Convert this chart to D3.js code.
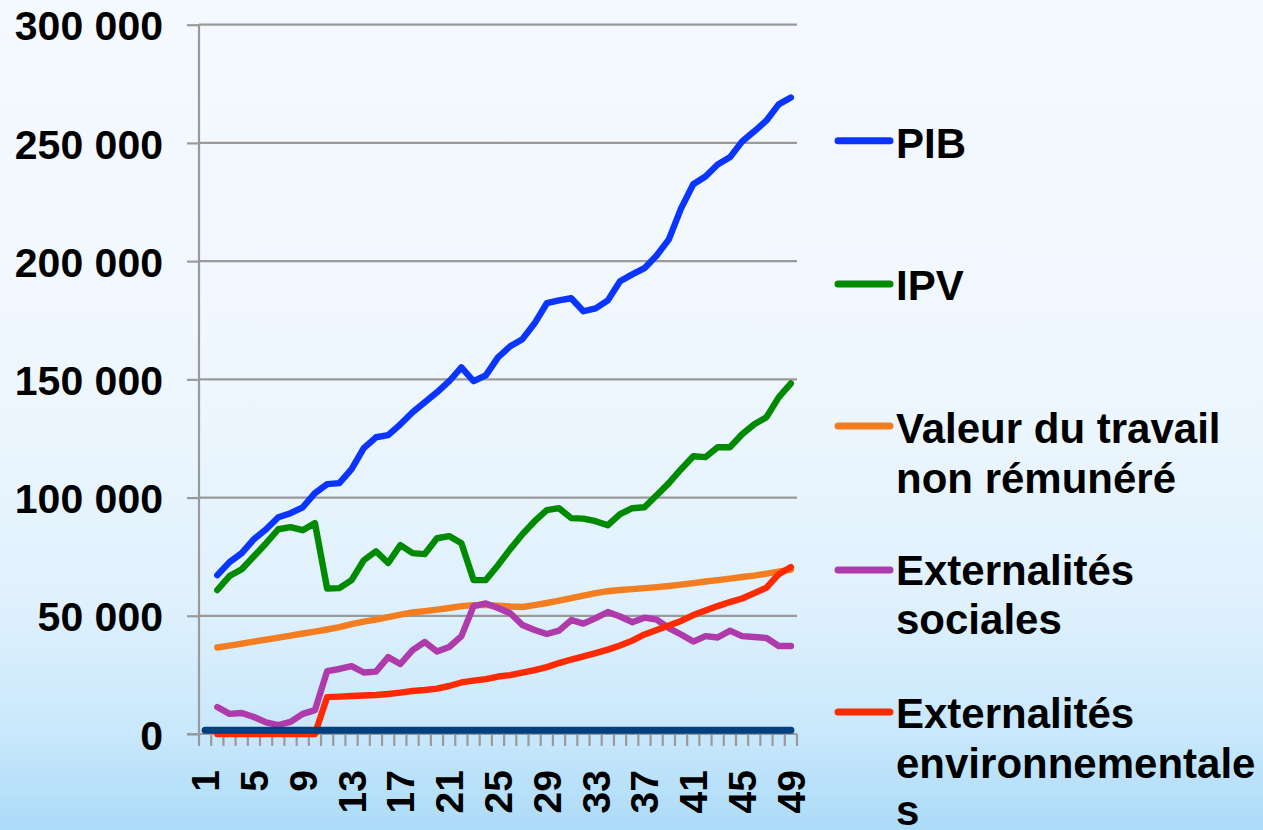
<!DOCTYPE html>
<html>
<head>
<meta charset="utf-8">
<script src="https://cdn.jsdelivr.net/npm/d3@7"></script>
<style>
  html, body { margin: 0; padding: 0; overflow: hidden; }
  svg { display: block; }
</style>
</head>
<body>
<svg id="chart" width="1263" height="830"></svg>
<script>
// Years 1..49
const categories = d3.range(1, 50);

// Series values (null = no value)
const pib = [null, 67200, 72700, 76500, 82400, 86600, 91700, 93400, 95900, 101900,
  105700, 106100, 112000, 120900, 125500, 126400, 131000, 136100, 140300, 144500,
  149200, 155100, 149200, 151700, 159300, 164000, 167000, 173700, 182200, 183400,
  184300, 178800, 180000, 183400, 191500, 194400, 197000, 202400, 209200, 222300,
  232500, 235800, 240900, 243900, 250600, 254900, 259500, 266300, 269200];

const ipv = [null, 60900, 66800, 69700, 75200, 80700, 86600, 87500, 86200, 89200,
  61500, 61700, 65100, 73500, 77300, 72300, 79900, 76500, 76100, 82800,
  83700, 80700, 65100, 65100, 71400, 78200, 84500, 90000, 94700, 95500,
  91300, 91100, 90000, 88300, 93000, 95500, 95900, 101000, 106100, 112000,
  117500, 117100, 121300, 121300, 126800, 131000, 134000, 142400, 148300];

const travail = [null, 36600, 37400, 38200, 39100, 39900, 40800, 41600, 42500, 43300,
  44200, 45200, 46500, 47500, 48400, 49400, 50500, 51400, 52000, 52600,
  53300, 54100, 54500, 54500, 54300, 53900, 53700, 54500, 55400, 56400,
  57500, 58500, 59600, 60400, 60900, 61300, 61700, 62100, 62600, 63200,
  63800, 64500, 65100, 65700, 66400, 67000, 67800, 68700, 69500];

const sociales = [null, 11400, 8500, 8900, 7200, 4900, 3800, 5100, 8500, 10100,
  26600, 27500, 28700, 26000, 26400, 32500, 29600, 35500, 38900, 34900,
  36800, 41400, 54100, 55200, 53300, 51100, 46100, 44000, 42300, 43700,
  48200, 46700, 49000, 51600, 49700, 47300, 49200, 48400, 44800, 42100,
  39100, 41400, 40800, 43700, 41400, 41000, 40600, 37200, 37200];

const environnementales = [null, 0, 0, 0, 0, 0, 0, 0, 0, 0,
  15600, 15800, 16100, 16300, 16500, 16900, 17500, 18200, 18600, 19200,
  20300, 21800, 22600, 23200, 24300, 24900, 26000, 27000, 28300, 30000,
  31500, 32800, 34200, 35700, 37400, 39500, 42100, 44000, 45900, 47800,
  50300, 52200, 54100, 55800, 57300, 59600, 61900, 67600, 70600];

const plancher = categories.map(() => 1600);

const yTicks = [0, 50000, 100000, 150000, 200000, 250000, 300000];
const xTickLabels = categories.filter(c => (c - 1) % 4 === 0);

const series = [
  { name: "PIB", values: pib, color: "#0a34ff", legend: ["PIB"] },
  { name: "IPV", values: ipv, color: "#008a00", legend: ["IPV"] },
  { name: "Valeur du travail non rémunéré", values: travail, color: "#f47d1f",
    legend: ["Valeur du travail", "non rémunéré"] },
  { name: "Externalités sociales", values: sociales, color: "#ae3aab",
    legend: ["Externalités", "sociales"] },
  { name: "Externalités environnementales", values: environnementales, color: "#ff2a00",
    legend: ["Externalités", "environnementale", "s"] },
  { name: "plancher", values: plancher, color: "#013f7f", legend: null, width: 7 }
];

const svg = d3.select("#chart");
const W = 1263, H = 830;

// Background gradient
const defs = svg.append("defs");
const grad = defs.append("linearGradient").attr("id", "bg")
  .attr("x1", 0).attr("y1", 0).attr("x2", 0).attr("y2", 1);
[[0, "#f4f9fe"], [0.45, "#eff7fe"], [0.72, "#e0f1fd"], [0.88, "#c9e8fb"], [1, "#acdbf8"]]
  .forEach(([o, c]) => grad.append("stop").attr("offset", o).attr("stop-color", c));
svg.append("rect").attr("width", W).attr("height", H).attr("fill", "url(#bg)");

const x = d3.scaleBand().domain(categories).range([199, 797]);
const y = d3.scaleLinear().domain([0, 300000]).range([734, 24.7]);
const font = "'Liberation Sans', Arial, sans-serif";

// Horizontal gridlines
svg.append("g").selectAll("line").data(yTicks.filter(t => t > 0)).join("line")
  .attr("x1", 199).attr("x2", 797)
  .attr("y1", d => y(d)).attr("y2", d => y(d))
  .attr("stroke", "#9a9a9a").attr("stroke-width", 2.2);

// Y axis
const yAxis = svg.append("g").attr("transform", "translate(199,0)")
  .call(d3.axisLeft(y).tickValues(yTicks).tickSize(12).tickPadding(24)
    .tickFormat(d => d3.format(",")(d).replace(/,/g, " ")));
yAxis.select(".domain").attr("stroke", "#9a9a9a").attr("stroke-width", 2.2)
  .attr("d", `M0,${y(300000)}V${y(0)}`);
yAxis.selectAll(".tick line").attr("stroke", "#9a9a9a").attr("stroke-width", 2.2);
yAxis.selectAll(".tick text").attr("font-family", font).attr("font-weight", "bold")
  .attr("font-size", 41).attr("fill", "#000").attr("dy", "0.37em")
  .attr("x", -36);

// X axis: ticks between categories
const xAxis = svg.append("g").attr("transform", `translate(0,${y(0)})`);
xAxis.append("line").attr("x1", 187).attr("x2", 797).attr("y1", 0).attr("y2", 0)
  .attr("stroke", "#9a9a9a").attr("stroke-width", 2.2);
const boundaries = categories.map(c => x(c)).concat([x(49) + x.bandwidth()]);
xAxis.selectAll("line.t").data(boundaries).join("line").attr("class", "t")
  .attr("x1", d => d).attr("x2", d => d).attr("y1", 0).attr("y2", 12)
  .attr("stroke", "#9a9a9a").attr("stroke-width", 2.2);
xAxis.selectAll("text").data(xTickLabels).join("text")
  .attr("transform", d => `translate(${x(d) + x.bandwidth() / 2},36) rotate(-90)`)
  .attr("text-anchor", "end").attr("dy", "0.36em")
  .attr("font-family", font).attr("font-weight", "bold").attr("font-size", 39)
  .attr("fill", "#000").text(d => d);

// Lines
const line = d3.line()
  .defined(d => d.v != null)
  .x(d => x(d.c) + x.bandwidth() / 2)
  .y(d => y(d.v));

svg.append("g").selectAll("path").data(series).join("path")
  .attr("d", s => line(categories.map((c, i) => ({ c, v: s.values[i] }))))
  .attr("fill", "none").attr("stroke", s => s.color)
  .attr("stroke-width", s => s.width || 6.4)
  .attr("stroke-linejoin", "round").attr("stroke-linecap", "round");

// Legend
const legendRows = [
  { s: series[0], lineY: 140.7, baselines: [158] },
  { s: series[1], lineY: 284, baselines: [300] },
  { s: series[2], lineY: 426, baselines: [443, 493] },
  { s: series[3], lineY: 570, baselines: [585, 634] },
  { s: series[4], lineY: 712, baselines: [728, 778, 825] }
];
const lg = svg.append("g");
legendRows.forEach(r => {
  lg.append("line").attr("x1", 838).attr("x2", 890)
    .attr("y1", r.lineY).attr("y2", r.lineY)
    .attr("stroke", r.s.color).attr("stroke-width", 7).attr("stroke-linecap", "round");
  r.s.legend.forEach((t, i) => {
    lg.append("text").attr("x", 896).attr("y", r.baselines[i])
      .attr("font-family", font).attr("font-weight", "bold").attr("font-size", 42)
      .attr("fill", "#000").text(t);
  });
});
</script>
</body>
</html>
